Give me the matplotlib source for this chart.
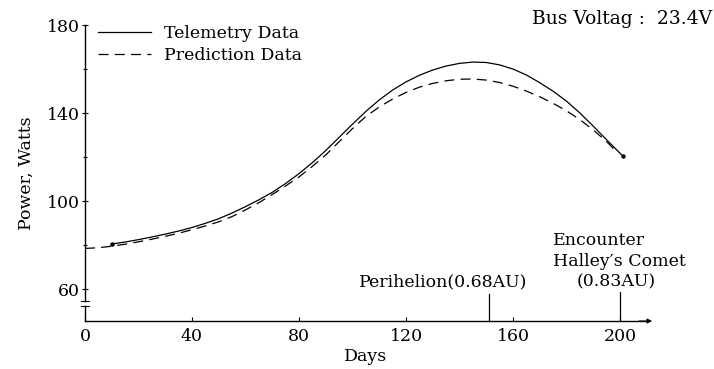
import matplotlib
matplotlib.use("Agg")
import matplotlib.pyplot as plt
from matplotlib.ticker import MultipleLocator

plt.rcParams['font.family'] = ['DejaVu Serif', 'Liberation Serif']

# ---- data ----
tele_days = [10, 15, 20, 25, 30, 35, 40, 45, 50, 55, 60, 65, 70, 75, 80, 85, 90,
             95, 100, 105, 110, 115, 120, 125, 130, 135, 140, 145, 150, 155, 160,
             165, 170, 175, 180, 185, 190, 195, 201]
tele_power = [80.5, 81.4, 82.5, 83.7, 85.0, 86.4, 88.0, 89.9, 92.0, 94.6, 97.5,
              100.6, 104.0, 108.0, 112.5, 117.5, 123.0, 129.0, 135.0, 140.8,
              146.0, 150.5, 154.2, 157.2, 159.6, 161.4, 162.6, 163.2, 163.0,
              161.9, 160.0, 157.3, 153.8, 149.9, 145.4, 140.0, 134.0, 127.8,
              120.5]

pred_days = [0, 5, 10, 15, 20, 25, 30, 35, 40, 45, 50, 55, 60, 65, 70, 75, 80,
             85, 90, 95, 100, 105, 110, 115, 120, 125, 130, 135, 140, 145, 150,
             155, 160, 165, 170, 175, 180, 185, 190, 195, 199]
pred_power = [78.5, 78.8, 79.5, 80.4, 81.5, 82.7, 84.0, 85.4, 87.0, 88.7, 90.6,
              93.0, 96.0, 99.3, 103.0, 106.9, 111.0, 115.8, 121.0, 127.0, 133.0,
              138.5, 142.8, 146.4, 149.4, 151.8, 153.5, 154.7, 155.4, 155.5,
              155.0, 153.9, 152.2, 150.0, 147.4, 144.4, 141.0, 137.0, 132.3,
              127.0, 122.0]

x_ticks = [0, 40, 80, 120, 160, 200]
y_ticks = [60, 100, 140, 180]
perihelion_day = 151
encounter_day = 200

fs = 12.5
fig = plt.figure(figsize=(7.14, 3.69), dpi=100)
ax = fig.add_axes([0.119, 0.130, 0.787, 0.802])
ax.set_xlim(0, 210)
ax.set_ylim(45.5, 180)

lw = 0.9
ax.plot(tele_days, tele_power, color='black', lw=lw, label='Telemetry Data')
ax.plot([tele_days[0], tele_days[-1]], [tele_power[0], tele_power[-1]], 'o',
        color='black', ms=2.2)
ax.plot(pred_days, pred_power, color='black', lw=lw, dashes=(8, 5),
        label='Prediction Data')

# axes styling
for s in ['top', 'right', 'left']:
    ax.spines[s].set_visible(False)
ax.spines['bottom'].set_linewidth(1.0)
# left axis with a break
ax.plot([0, 0], [45.5, 52.3], color='black', lw=1.0, clip_on=False)
ax.plot([0, 0], [54.8, 180], color='black', lw=1.0, clip_on=False)
for yb in (52.3, 54.8):
    ax.plot([-1.5, 1.5], [yb, yb], color='black', lw=0.8, clip_on=False)
# arrow at end of x axis
ax.annotate('', xy=(213, 45.5), xytext=(206, 45.5),
            arrowprops=dict(arrowstyle='-|>', color='black', lw=0.8,
                            mutation_scale=7), annotation_clip=False)

ax.set_xticks(x_ticks)
ax.set_yticks(y_ticks)
ax.yaxis.set_minor_locator(MultipleLocator(20))
ax.tick_params(axis='x', direction='in', length=3, width=0.8, labelsize=fs, pad=5)
ax.tick_params(axis='y', direction='inout', length=5, width=0.8, labelsize=fs, pad=1)
ax.tick_params(axis='y', which='minor', direction='inout', length=3, width=0.8)

ax.set_xlabel('Days', fontsize=fs, labelpad=2)
ax.set_ylabel('Power, Watts', fontsize=fs, labelpad=9)

# markers for events
ax.plot([perihelion_day, perihelion_day], [45.5, 58.0], color='black', lw=0.9, clip_on=False)
ax.plot([encounter_day, encounter_day], [45.5, 58.5], color='black', lw=0.9, clip_on=False)
ax.text(134, 63.2, 'Perihelion(0.68AU)', ha='center', va='center', fontsize=fs)
ax.text(175, 82.3, 'Encounter', ha='left', va='center', fontsize=fs)
ax.text(175, 72.7, 'Halley\u2032s Comet', ha='left', va='center', fontsize=fs)
ax.text(198.5, 63.2, '(0.83AU)', ha='center', va='center', fontsize=fs)

leg = ax.legend(loc='upper left', bbox_to_anchor=(0.005, 1.036), frameon=False,
                fontsize=fs, handlelength=3.05, handletextpad=0.75,
                labelspacing=0.3, borderaxespad=0.2)

fig.text(0.997, 0.948, 'Bus Voltag :  23.4V', ha='right', va='center', fontsize=13.5)

fig.savefig('out.png', dpi=100)
